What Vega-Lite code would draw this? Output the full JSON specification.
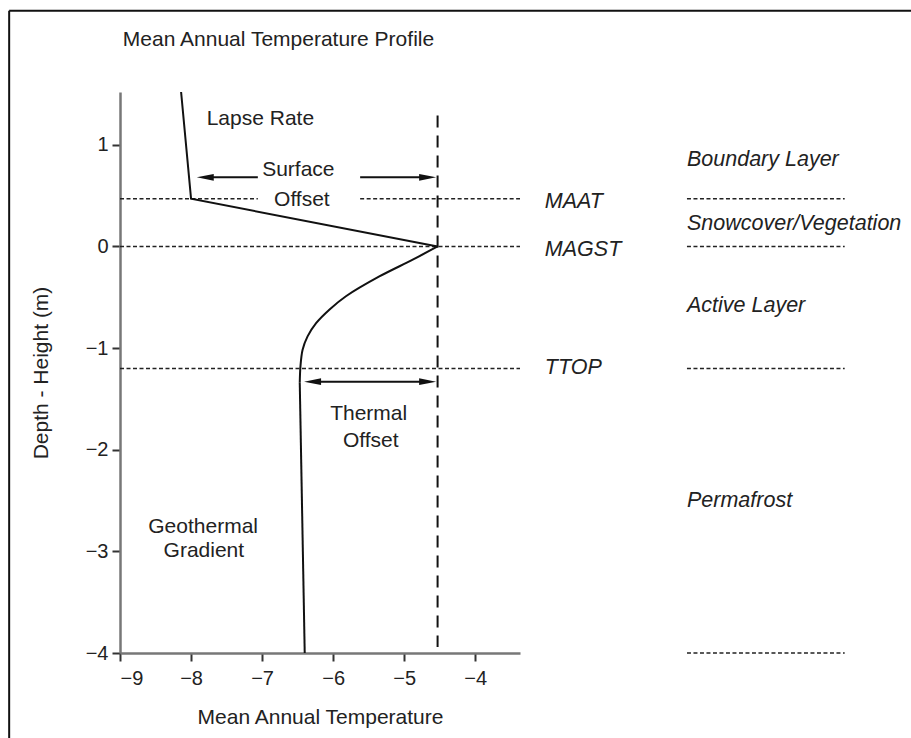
{
  "$schema": "https://vega.github.io/schema/vega-lite/v6.json",
  "width": 400,
  "height": 561,
  "autosize": {"type": "none"},
  "padding": {"left": 120, "top": 92, "right": 391, "bottom": 85},
  "background": "white",
  "config": {
    "view": {"stroke": null},
    "font": "Liberation Sans",
    "axis": {
      "grid": false,
      "domainColor": "#777",
      "domainWidth": 2.5,
      "tickColor": "#333",
      "tickWidth": 2,
      "tickSize": 8,
      "labelFont": "Liberation Sans",
      "labelFontSize": 20,
      "labelColor": "#222",
      "titleFont": "Liberation Sans",
      "titleFontSize": 21,
      "titleFontWeight": "normal",
      "titleColor": "#222"
    }
  },
  "datasets": {
    "border": [
      {"x1": -10.56, "y1": 2.32, "x2": 2.2, "y2": 2.32},
      {"x1": -10.56, "y1": 2.32, "x2": -10.56, "y2": -4.9}
    ],
    "hlines": [
      {"d": 0.47, "t1": -9, "t2": -7.06},
      {"d": 0.47, "t1": -5.62, "t2": -3.37},
      {"d": 0, "t1": -9, "t2": -3.37},
      {"d": -1.2, "t1": -9, "t2": -3.37},
      {"d": 0.47, "t1": -1.02, "t2": 1.2},
      {"d": 0, "t1": -1.02, "t2": 1.2},
      {"d": -1.2, "t1": -1.02, "t2": 1.2},
      {"d": -4, "t1": -1.02, "t2": 1.2}
    ],
    "vline": [{"t": -4.53, "d1": 1.29, "d2": -3.94}],
    "straight": [
      {"seg": "a", "t": -8.14, "d": 1.52},
      {"seg": "a", "t": -8.0, "d": 0.47},
      {"seg": "a", "t": -4.53, "d": 0},
      {"seg": "c", "t": -6.47, "d": -1.34},
      {"seg": "c", "t": -6.4, "d": -4}
    ],
    "curve": [
      {"t": -4.53, "d": 0},
      {"t": -4.88, "d": -0.13},
      {"t": -5.35, "d": -0.295},
      {"t": -5.82, "d": -0.49},
      {"t": -6.05, "d": -0.62},
      {"t": -6.24, "d": -0.755},
      {"t": -6.36, "d": -0.885},
      {"t": -6.43, "d": -1.016},
      {"t": -6.46, "d": -1.18},
      {"t": -6.47, "d": -1.34}
    ],
    "shafts": [
      {"d": 0.68, "t1": -7.8, "t2": -7.06},
      {"d": 0.68, "t1": -5.62, "t2": -4.67},
      {"d": -1.33, "t1": -6.29, "t2": -4.67}
    ],
    "heads": [
      {"d": 0.68, "t": -7.8, "dir": "left"},
      {"d": 0.68, "t": -4.67, "dir": "right"},
      {"d": -1.33, "t": -6.29, "dir": "left"},
      {"d": -1.33, "t": -4.67, "dir": "right"}
    ],
    "titleText": [
      {"label": "Mean Annual Temperature Profile", "t": -8.96, "d": 1.97}
    ],
    "labelsLeft": [
      {"label": "Lapse Rate", "t": -7.78, "d": 1.25}
    ],
    "labelsCenter": [
      {"label": "Surface", "t": -6.49, "d": 0.75},
      {"label": "Offset", "t": -6.44, "d": 0.46},
      {"label": "Thermal", "t": -5.5, "d": -1.65},
      {"label": "Offset", "t": -5.47, "d": -1.91},
      {"label": "Geothermal", "t": -7.83, "d": -2.76},
      {"label": "Gradient", "t": -7.82, "d": -3.0}
    ],
    "labelsItalic": [
      {"label": "MAAT", "t": -3.02, "d": 0.44},
      {"label": "MAGST", "t": -3.02, "d": -0.03},
      {"label": "TTOP", "t": -3.02, "d": -1.2},
      {"label": "Boundary Layer", "t": -1.02, "d": 0.85},
      {"label": "Snowcover/Vegetation", "t": -1.02, "d": 0.22},
      {"label": "Active Layer", "t": -1.02, "d": -0.59},
      {"label": "Permafrost", "t": -1.02, "d": -2.5}
    ]
  },
  "layer": [
    {
      "data": {"name": "border"},
      "mark": {"type": "rule", "color": "#111", "strokeWidth": 2},
      "encoding": {
        "x": {"field": "x1", "type": "quantitative", "scale": {"domain": [-9, -3.37], "nice": false, "zero": false},
          "axis": {"values": [-9, -8, -7, -6, -5, -4], "format": "d", "title": "Mean Annual Temperature", "labelPadding": 7, "titlePadding": 18}},
        "y": {"field": "y1", "type": "quantitative", "scale": {"domain": [-4, 1.52], "nice": false, "zero": false},
          "axis": {"values": [-4, -3, -2, -1, 0, 1], "format": "d", "title": "Depth - Height (m)", "labelPadding": 4, "titlePadding": 34}},
        "x2": {"field": "x2"},
        "y2": {"field": "y2"}
      }
    },
    {
      "data": {"name": "hlines"},
      "mark": {"type": "rule", "color": "#222", "strokeWidth": 1.6, "strokeDash": [4, 2.5]},
      "encoding": {
        "x": {"field": "t1", "type": "quantitative"},
        "x2": {"field": "t2"},
        "y": {"field": "d", "type": "quantitative"}
      }
    },
    {
      "data": {"name": "vline"},
      "mark": {"type": "rule", "color": "#111", "strokeWidth": 2, "strokeDash": [12, 8]},
      "encoding": {
        "x": {"field": "t", "type": "quantitative"},
        "y": {"field": "d1", "type": "quantitative"},
        "y2": {"field": "d2"}
      }
    },
    {
      "data": {"name": "straight"},
      "mark": {"type": "line", "color": "#111", "strokeWidth": 2},
      "encoding": {
        "x": {"field": "t", "type": "quantitative"},
        "y": {"field": "d", "type": "quantitative"},
        "detail": {"field": "seg"},
        "order": {"field": "d", "sort": "descending"}
      }
    },
    {
      "data": {"name": "curve"},
      "mark": {"type": "line", "color": "#111", "strokeWidth": 2, "interpolate": "catmull-rom"},
      "encoding": {
        "x": {"field": "t", "type": "quantitative"},
        "y": {"field": "d", "type": "quantitative"},
        "order": {"field": "d", "sort": "descending"}
      }
    },
    {
      "data": {"name": "shafts"},
      "mark": {"type": "rule", "color": "#111", "strokeWidth": 2},
      "encoding": {
        "x": {"field": "t1", "type": "quantitative"},
        "x2": {"field": "t2"},
        "y": {"field": "d", "type": "quantitative"}
      }
    },
    {
      "data": {"name": "heads"},
      "mark": {"type": "point", "filled": true, "color": "#111", "opacity": 1, "size": 289, "strokeWidth": 0},
      "encoding": {
        "x": {"field": "t", "type": "quantitative"},
        "y": {"field": "d", "type": "quantitative"},
        "shape": {"field": "dir", "type": "nominal", "legend": null,
          "scale": {"domain": ["left", "right"], "range": ["M-1,0L1,-0.4L1,0.4Z", "M1,0L-1,-0.4L-1,0.4Z"]}}
      }
    },
    {
      "data": {"name": "titleText"},
      "mark": {"type": "text", "align": "left", "baseline": "alphabetic", "fontSize": 21, "color": "#222", "font": "Liberation Sans"},
      "encoding": {
        "x": {"field": "t", "type": "quantitative"},
        "y": {"field": "d", "type": "quantitative"},
        "text": {"field": "label"}
      }
    },
    {
      "data": {"name": "labelsLeft"},
      "mark": {"type": "text", "align": "left", "baseline": "middle", "fontSize": 21, "color": "#222", "font": "Liberation Sans"},
      "encoding": {
        "x": {"field": "t", "type": "quantitative"},
        "y": {"field": "d", "type": "quantitative"},
        "text": {"field": "label"}
      }
    },
    {
      "data": {"name": "labelsCenter"},
      "mark": {"type": "text", "align": "center", "baseline": "middle", "fontSize": 21, "color": "#222", "font": "Liberation Sans"},
      "encoding": {
        "x": {"field": "t", "type": "quantitative"},
        "y": {"field": "d", "type": "quantitative"},
        "text": {"field": "label"}
      }
    },
    {
      "data": {"name": "labelsItalic"},
      "mark": {"type": "text", "align": "left", "baseline": "middle", "fontSize": 21.5, "fontStyle": "italic", "color": "#222", "font": "Liberation Sans"},
      "encoding": {
        "x": {"field": "t", "type": "quantitative"},
        "y": {"field": "d", "type": "quantitative"},
        "text": {"field": "label"}
      }
    }
  ]
}
